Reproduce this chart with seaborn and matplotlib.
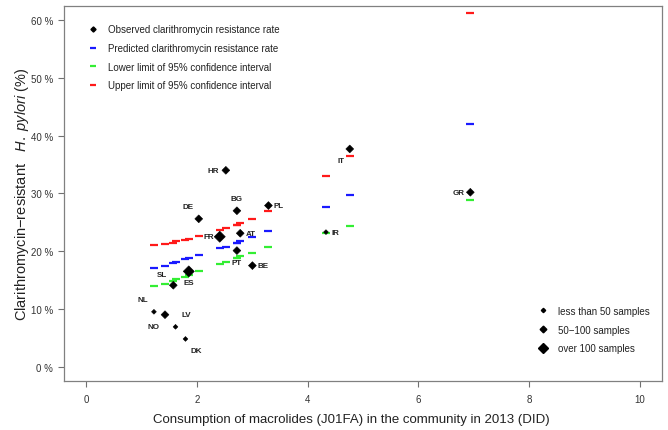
import numpy as np
import pandas as pd
import matplotlib
matplotlib.use("Agg")
import matplotlib.pyplot as plt
import seaborn as sns
from matplotlib.lines import Line2D

# values (percent)
countries = ["NL", "NO", "SL", "LV", "DK", "ES", "DE", "FR", "HR",
             "BG", "PT", "AT", "BE", "PL", "IR", "IT", "GR"]
consumption = [1.22, 1.42, 1.57, 1.61, 1.79, 1.85, 2.03, 2.41, 2.52,
               2.72, 2.72, 2.78, 3.00, 3.29, 4.33, 4.76, 6.94]
observed = [9.5, 9.0, 14.1, 6.9, 4.8, 16.5, 25.6, 22.5, 34.0,
            27.0, 20.1, 23.1, 17.5, 27.9, 23.3, 37.7, 30.2]
predicted = [17.0, 17.5, 17.9, 18.1, 18.6, 18.8, 19.3, 20.5, 20.8,
             21.5, 21.5, 21.8, 22.4, 23.5, 27.7, 29.7, 42.0]
lower = [13.9, 14.4, 14.9, 15.1, 15.6, 15.8, 16.5, 17.8, 18.2,
         18.8, 18.8, 19.1, 19.7, 20.7, 23.2, 24.3, 28.9]
upper = [21.0, 21.3, 21.5, 21.7, 22.0, 22.1, 22.7, 23.6, 24.0,
         24.6, 24.6, 24.9, 25.6, 27.0, 33.1, 36.5, 61.2]
samples = ["small", "mid", "mid", "small", "small", "large", "mid", "large", "mid",
           "mid", "mid", "mid", "mid", "mid", "small", "mid", "mid"]

# label offsets in pixels (right, down) relative to the point
label_off = {"NL": (-11, -12), "NO": (-12, 12), "SL": (-11, -11), "LV": (11, -12),
             "DK": (11, 12), "ES": (0, 11), "DE": (-11, -12), "FR": (-11, 0),
             "HR": (-13, 0), "BG": (0, -12), "PT": (0, 12), "AT": (11, 0),
             "BE": (11, 0), "PL": (10, 0), "IR": (9, 0), "IT": (-9, 12), "GR": (-12, 0)}

df = pd.DataFrame({"country": countries, "x": consumption, "obs": observed,
                   "pred": predicted, "lo": lower, "hi": upper, "n": samples})

sns.set_style("white")
plt.rcParams["font.family"] = ["Liberation Sans", "DejaVu Sans"]
plt.rcParams["mathtext.fontset"] = "custom"
plt.rcParams["mathtext.it"] = "Liberation Sans:italic"
plt.rcParams["mathtext.rm"] = "Liberation Sans"

fig = plt.figure(figsize=(6.68, 4.31), dpi=100)
ax = fig.add_axes([0.0963, 0.1148, 0.8943, 0.8682])

RED = "#ff1a1a"
BLUE = "#1a1aff"
GREEN = "#33ee33"
dash_s = 40
for col, c in [("hi", RED), ("pred", BLUE), ("lo", GREEN)]:
    sns.scatterplot(data=df, x="x", y=col, marker="_", s=dash_s, color=c,
                    linewidth=1.6, ax=ax, legend=False, zorder=2)

sns.scatterplot(data=df, x="x", y="obs", size="n", marker="D", color="black",
                sizes={"small": 6, "mid": 16, "large": 32},
                linewidth=0.4, edgecolor="black", ax=ax, legend=False, zorder=3)

for _, r in df.iterrows():
    dx, dy = label_off[r["country"]]
    ax.annotate(r["country"], (r["x"], r["obs"]), xytext=(dx * 0.72, -dy * 0.72),
                textcoords="offset points", ha="center", va="center",
                fontsize=5.8, fontweight="bold", color="#222222")

ax.set_xlim(-0.4, 10.4)
ax.set_ylim(-2.4, 62.4)
ax.set_xticks([0, 2, 4, 6, 8, 10])
ax.set_yticks([0, 10, 20, 30, 40, 50, 60])
ax.set_yticklabels(["%d %%" % v for v in [0, 10, 20, 30, 40, 50, 60]])
ax.tick_params(axis="both", direction="out", length=4, width=0.8, color="#707070",
               labelsize=7, labelcolor="#333333")
ax.tick_params(axis="x", pad=6)
ax.tick_params(axis="y", pad=4)
ax.xaxis.set_ticks_position("bottom")
ax.yaxis.set_ticks_position("left")
for sp in ax.spines.values():
    sp.set_color("#808080")
    sp.set_linewidth(0.9)

ax.set_xlabel("Consumption of macrolides (J01FA) in the community in 2013 (DID)",
              fontsize=9.5, color="#222222", labelpad=7)
ax.xaxis.set_label_coords(0.48, -0.088)
ax.set_ylabel("Clarithromycin\u2212resistant   $H.\\ pylori$ (%)",
              fontsize=10.5, color="#222222", labelpad=1)
ax.yaxis.set_label_coords(-0.055, 0.5)

h1 = [Line2D([], [], marker="D", ls="none", color="black", markersize=2.6),
      Line2D([], [], marker="_", ls="none", color=BLUE, markersize=4, markeredgewidth=1.6),
      Line2D([], [], marker="_", ls="none", color=GREEN, markersize=4, markeredgewidth=1.6),
      Line2D([], [], marker="_", ls="none", color=RED, markersize=4, markeredgewidth=1.6)]
leg1 = fig.legend(h1, ["Observed clarithromycin resistance rate",
                       "Predicted clarithromycin resistance rate",
                       "Lower limit of 95% confidence interval",
                       "Upper limit of 95% confidence interval"],
                  loc="upper left", bbox_to_anchor=(0.132, 0.941), frameon=False,
                  fontsize=7, labelspacing=0.88, handlelength=1.0, handletextpad=1.0,
                  borderpad=0, borderaxespad=0, labelcolor="#222222")

h2 = [Line2D([], [], marker="D", ls="none", color="black", markersize=2.2),
      Line2D([], [], marker="D", ls="none", color="black", markersize=3.4),
      Line2D([], [], marker="D", ls="none", color="black", markersize=4.6)]
leg2 = fig.legend(h2, ["less than 50 samples", "50\u2212100 samples", "over 100 samples"],
                  loc="upper left", bbox_to_anchor=(0.806, 0.288), frameon=False,
                  fontsize=7, labelspacing=0.9, handlelength=1.0, handletextpad=1.0,
                  borderpad=0, borderaxespad=0, labelcolor="#222222")

fig.savefig("out.png", dpi=100)
